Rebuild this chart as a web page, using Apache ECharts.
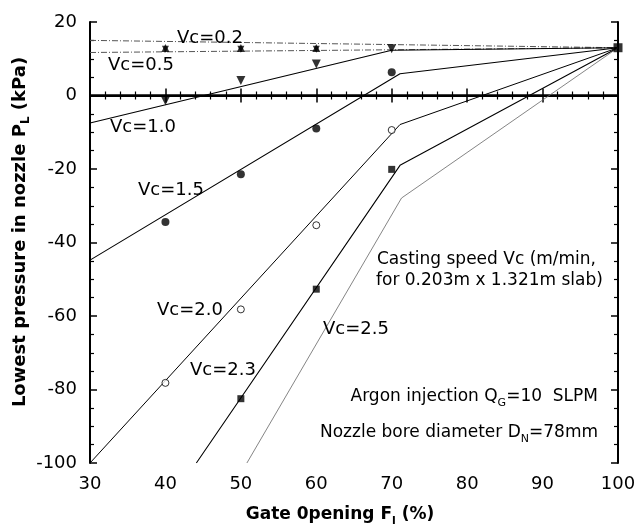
<!DOCTYPE html>
<html>
<head>
<meta charset="utf-8">
<script src="https://cdn.jsdelivr.net/npm/echarts@6/dist/echarts.min.js"></script>
<style>
  html, body { margin: 0; padding: 0; background: #fff; }
  #chart { width: 639px; height: 531px; }
</style>
</head>
<body>
<div id="chart"></div>
<script>
// Gate opening (%) at which the pressure was measured
var gateOpening = [40, 50, 60, 70];
var fullOpen = [[100, 13]];

// Measured lowest pressure (kPa) per casting speed
var vc02Pts = [12.9, 12.9, 12.9];
var vc05Pts = [12.6, 12.6, 12.6];
var vc10Pts = [-1.4, 4.1, 8.6, 12.7];
var vc15Pts = [-34.4, -21.4, -9.0, 6.3];
var vc20Pts = [-78.2, -58.2, -35.3, -9.4];
var vc23Gate = [50, 60, 70];
var vc23Pts = [-82.5, -52.7, -20.1];

// Model curves (gate opening %, pressure kPa)
var vc02Line = [[30, 15.0], [100, 13]];
var vc05Line = [[30, 11.7], [100, 13]];
var vc10Line = [[30, -7.5], [70, 12.3], [100, 13]];
var vc15Line = [[30, -44.8], [71.1, 5.9], [100, 13]];
var vc20Line = [[30, -100], [71.1, -7.9], [100, 13]];
var vc23Line = [[44.1, -100], [71.1, -19], [100, 13]];
var vc25Line = [[50.8, -100], [71.3, -27.9], [100, 13]];
var zeroLine = [[30, 0], [100, 0]];

var xTicks = { min: 30, max: 100, interval: 10 };
var yTicks = { min: -100, max: 20, interval: 20 };

function pair(xs, ys) {
  return ys.map(function (v, i) { return [xs[i], v]; });
}

var FONT = 'DejaVu Sans';

function lineSeries(data, color, width, type) {
  return {
    type: 'line', data: data, symbol: 'none', silent: true, z: 2,
    lineStyle: { color: color, width: width, type: type || 'solid' }
  };
}
function pointSeries(data, symbol, size, opts) {
  opts = opts || {};
  return {
    type: 'scatter', data: data, symbol: symbol, symbolSize: size, z: 5,
    symbolRotate: opts.rotate || 0,
    itemStyle: {
      color: opts.hollow ? '#fff' : '#000',
      borderColor: '#000', borderWidth: opts.hollow ? 1 : 0
    }
  };
}

var axisCommon = {
  type: 'value',
  axisLine: { show: true, lineStyle: { color: '#000', width: 2 } },
  axisTick: { show: true, inside: true, length: 7, lineStyle: { color: '#000', width: 1.5 } },
  minorTick: { show: true, length: 4, lineStyle: { color: '#000', width: 1.2 } },
  splitLine: { show: false }
};

function ax(extra) { return Object.assign({}, JSON.parse(JSON.stringify(axisCommon)), extra); }

var chart = echarts.init(document.getElementById('chart'), null, { renderer: 'canvas' });

var labelStyle = { fill: '#000', font: '18px "' + FONT + '"' };
function label(text, x, y) {
  return { type: 'text', x: x, y: y, style: Object.assign({ text: text, textVerticalAlign: 'middle' }, labelStyle), z: 10 };
}

chart.setOption({
  animation: false,
  backgroundColor: '#fff',
  grid: { left: 90, right: 21, top: 22, bottom: 68 },
  xAxis: [
    ax({
      min: xTicks.min, max: xTicks.max, interval: xTicks.interval, position: 'bottom',
      minorTick: { show: true, splitNumber: 5, length: 4, lineStyle: { color: '#000', width: 1.2 } },
      axisLabel: { color: '#000', fontSize: 18, fontFamily: FONT, margin: 12 }
    }),
    ax({
      min: xTicks.min, max: xTicks.max, interval: xTicks.interval, position: 'top',
      minorTick: { show: true, splitNumber: 5, length: 4, lineStyle: { color: '#000', width: 1.2 } },
      axisLabel: { show: false }
    })
  ],
  yAxis: [
    ax({
      min: yTicks.min, max: yTicks.max, interval: yTicks.interval, position: 'left',
      minorTick: { show: true, splitNumber: 4, length: 4, lineStyle: { color: '#000', width: 1.2 } },
      axisLabel: { color: '#000', fontSize: 18, fontFamily: FONT, margin: 13 }
    }),
    ax({
      min: yTicks.min, max: yTicks.max, interval: yTicks.interval, position: 'right',
      minorTick: { show: true, splitNumber: 4, length: 4, lineStyle: { color: '#000', width: 1.2 } },
      axisLabel: { show: false }
    })
  ],
  series: [
    lineSeries(zeroLine, '#000', 2.6),
    lineSeries(vc02Line, '#555', 1, [6, 2, 1, 2]),
    lineSeries(vc05Line, '#555', 1, [6, 2, 1, 2]),
    lineSeries(vc10Line, '#000', 1.1),
    lineSeries(vc15Line, '#000', 1.1),
    lineSeries(vc20Line, '#000', 1),
    lineSeries(vc23Line, '#000', 1.1),
    lineSeries(vc25Line, '#666', 0.8),
    pointSeries(pair(gateOpening, vc02Pts), 'triangle', 8),
    pointSeries(pair(gateOpening, vc05Pts), 'triangle', 7, { rotate: 180 }),
    pointSeries(pair(gateOpening, vc10Pts), 'triangle', 9, { rotate: 180 }),
    pointSeries(pair(gateOpening, vc15Pts), 'circle', 8),
    pointSeries(pair(gateOpening, vc20Pts), 'circle', 7, { hollow: true }),
    pointSeries(pair(vc23Gate, vc23Pts), 'rect', 7),
    pointSeries(fullOpen, 'rect', 9)
  ],
  graphic: [
    label('Vc=0.2', 177, 38),
    label('Vc=0.5', 108, 65),
    label('Vc=1.0', 110, 127),
    label('Vc=1.5', 138, 190),
    label('Vc=2.0', 157, 310),
    label('Vc=2.3', 190, 370),
    label('Vc=2.5', 323, 329),
    {
      type: 'text', x: 377, y: 260, z: 10,
      style: { text: 'Casting speed Vc (m/min,', fill: '#000', font: '17px "' + FONT + '"', textVerticalAlign: 'middle' }
    },
    {
      type: 'text', x: 376, y: 281, z: 10,
      style: { text: 'for 0.203m x 1.321m slab)', fill: '#000', font: '17px "' + FONT + '"', textVerticalAlign: 'middle' }
    },
    {
      type: 'text', x: 598, y: 397, z: 10,
      style: {
        text: 'Argon injection Q{sub|G}=10  SLPM', fill: '#000', font: '17px "' + FONT + '"',
        textAlign: 'right', textVerticalAlign: 'middle',
        rich: { sub: { fontSize: 11, fontFamily: FONT, padding: [12, 0, 0, 0] } }
      }
    },
    {
      type: 'text', x: 598, y: 433, z: 10,
      style: {
        text: 'Nozzle bore diameter D{sub|N}=78mm', fill: '#000', font: '17px "' + FONT + '"',
        textAlign: 'right', textVerticalAlign: 'middle',
        rich: { sub: { fontSize: 11, fontFamily: FONT, padding: [12, 0, 0, 0] } }
      }
    },
    {
      type: 'text', x: 340, y: 515, z: 10,
      style: {
        text: 'Gate 0pening F{sub|l} (%)', fill: '#000', font: 'bold 17px "' + FONT + '"',
        textAlign: 'center', textVerticalAlign: 'middle',
        rich: { sub: { fontSize: 11, fontWeight: 'bold', fontFamily: FONT, padding: [12, 0, 0, 0] } }
      }
    },
    {
      type: 'text', x: 20, y: 232, rotation: Math.PI / 2, z: 10,
      style: {
        text: 'Lowest pressure in nozzle P{sub|L} (kPa)', fill: '#000', font: 'bold 18px "' + FONT + '"',
        textAlign: 'center', textVerticalAlign: 'middle',
        rich: { sub: { fontSize: 12, fontWeight: 'bold', fontFamily: FONT, padding: [12, 0, 0, 0] } }
      }
    }
  ]
});
</script>
</body>
</html>
